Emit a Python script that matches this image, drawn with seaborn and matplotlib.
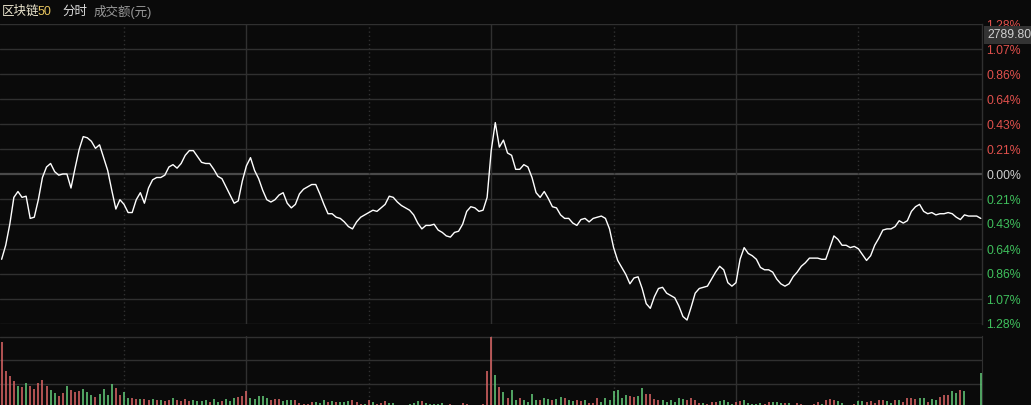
import matplotlib
matplotlib.use('Agg')
import matplotlib.pyplot as plt
import seaborn as sns
import pandas as pd

# percent change vs previous close, one value per minute (241 minutes)
pct_change = [
    -0.73, -0.61, -0.43, -0.20, -0.15, -0.20, -0.19, -0.38, -0.37, -0.22,
    -0.03, 0.06, 0.09, 0.02, -0.01, 0.00, 0.00, -0.12, 0.05, 0.21,
    0.32, 0.31, 0.28, 0.22, 0.25, 0.14, 0.03, -0.14, -0.30, -0.22,
    -0.26, -0.33, -0.33, -0.22, -0.16, -0.25, -0.12, -0.05, -0.03, -0.03,
    -0.01, 0.06, 0.08, 0.05, 0.09, 0.16, 0.20, 0.20, 0.15, 0.10,
    0.09, 0.09, 0.04, -0.02, -0.04, -0.11, -0.18, -0.25, -0.23, -0.06,
    0.07, 0.14, 0.03, -0.04, -0.14, -0.22, -0.24, -0.22, -0.18, -0.16,
    -0.25, -0.29, -0.26, -0.17, -0.13, -0.11, -0.09, -0.09, -0.17, -0.26,
    -0.34, -0.34, -0.37, -0.38, -0.41, -0.45, -0.47, -0.41, -0.37, -0.35,
    -0.33, -0.31, -0.32, -0.29, -0.26, -0.19, -0.20, -0.24, -0.27, -0.29,
    -0.31, -0.35, -0.42, -0.47, -0.44, -0.44, -0.43, -0.48, -0.50, -0.53,
    -0.54, -0.50, -0.49, -0.43, -0.32, -0.28, -0.29, -0.32, -0.31, -0.20,
    0.20, 0.44, 0.23, 0.29, 0.18, 0.16, 0.04, 0.04, 0.08, 0.06,
    -0.03, -0.16, -0.20, -0.15, -0.21, -0.28, -0.29, -0.35, -0.38, -0.38,
    -0.42, -0.44, -0.39, -0.38, -0.41, -0.38, -0.37, -0.36, -0.38, -0.47,
    -0.63, -0.74, -0.80, -0.86, -0.94, -0.89, -0.88, -0.98, -1.11, -1.15,
    -1.05, -0.98, -0.97, -1.02, -1.04, -1.06, -1.13, -1.22, -1.25, -1.14,
    -1.02, -0.98, -0.97, -0.96, -0.90, -0.84, -0.79, -0.82, -0.93, -0.96,
    -0.93, -0.73, -0.63, -0.68, -0.70, -0.73, -0.80, -0.82, -0.82, -0.84,
    -0.90, -0.94, -0.96, -0.94, -0.88, -0.84, -0.79, -0.76, -0.72, -0.72,
    -0.72, -0.73, -0.73, -0.63, -0.53, -0.56, -0.61, -0.61, -0.63, -0.62,
    -0.64, -0.69, -0.74, -0.70, -0.61, -0.55, -0.48, -0.47, -0.47, -0.45,
    -0.40, -0.42, -0.40, -0.32, -0.28, -0.26, -0.32, -0.34, -0.33, -0.35,
    -0.34, -0.34, -0.33, -0.34, -0.37, -0.39, -0.35, -0.36, -0.36, -0.36,
    -0.38,
]

# traded amount per minute (relative units)
amount = [
    63, 34, 29, 24, 19, 18, 22, 19, 16, 22,
    25, 19, 15, 12, 9, 12, 19, 15, 13, 14,
    16, 13, 10, 8, 11, 16, 10, 21, 17, 10,
    13, 7, 7, 6, 6, 6, 5, 6, 5, 5,
    4, 5, 7, 5, 4, 6, 4, 5, 4, 4,
    5, 3, 6, 3, 4, 6, 4, 7, 8, 9,
    14, 7, 6, 9, 9, 7, 5, 6, 6, 4,
    5, 5, 5, 2, 1, 1, 3, 3, 2, 5,
    3, 4, 3, 3, 3, 4, 5, 3, 1, 1,
    5, 3, 1, 2, 4, 2, 2, 0, 0, 0,
    1, 2, 4, 4, 2, 1, 1, 1, 2, 0,
    1, 0, 0, 2, 1, 0, 0, 0, 1, 34,
    68, 30, 18, 13, 7, 15, 5, 7, 5, 3,
    11, 5, 5, 7, 6, 5, 6, 8, 7, 5,
    4, 5, 4, 5, 2, 2, 7, 3, 7, 5,
    14, 15, 7, 10, 9, 8, 9, 17, 11, 11,
    6, 5, 5, 3, 5, 3, 7, 6, 5, 7,
    5, 2, 2, 1, 3, 3, 4, 5, 3, 1,
    3, 4, 5, 2, 1, 1, 2, 1, 3, 3,
    3, 2, 2, 2, 0, 2, 1, 0, 0, 1,
    3, 1, 5, 6, 5, 4, 2, 0, 0, 1,
    4, 4, 3, 4, 2, 5, 5, 4, 2, 5,
    5, 3, 7, 7, 6, 7, 7, 3, 6, 5,
    8, 10, 10, 14, 12, 15, 14, 0, 0, 0,
    32,
]

# r = up minute, g = down minute
direction = list(
    "rrrrgrgrrr" "rrggrrgrrr" "gggrggggrr" "ggrrgrrgrg"
    "rrgrrrrggg" "grggrgggrr" "rgggggrrrg" "ggrrrrrggg"
    "rgrgggrrrg" "rgrrrggggg" "gggrgggggg" "rrrrrrrrrr"
    "rgrgrggrgg" "ggrggrggrg" "grrgrrrggg" "ggggrrggrr"
    "rrggggggrr" "rrgrrrgggg" "rrgggggrrg" "ggrggrrrrr"
    "rgrrrggggr" "ggrrrrrggr" "grrrrggrgg" "rrrggrgggg"
    "g"
)

pct_ticks = [1.284 * k / 6 for k in range(6, -7, -1)]
pct_tick_labels = ['1.28%', '1.07%', '0.86%', '0.64%', '0.43%', '0.21%', '0.00%',
                   '0.21%', '0.43%', '0.64%', '0.86%', '1.07%', '1.28%']
price_label = '2789.80'

df = pd.DataFrame({'minute': range(len(pct_change)), 'pct': pct_change,
                   'amount': amount, 'direction': direction})

bg = '#0a0a0a'
grid_c = '#303030'
red = '#e0504c'
green = '#3fbf5c'
bar_red = '#d86464'
bar_green = '#62c878'

sns.set_style('dark')
plt.rcParams['font.family'] = ['Liberation Sans', 'Noto Sans CJK SC', 'DejaVu Sans']

W, H = 1031, 405
fig = plt.figure(figsize=(W / 100, H / 100), dpi=100, facecolor=bg)

ax = fig.add_axes([0, (H - 324) / H, 982 / W, 300 / H], facecolor=bg)
axv = fig.add_axes([0, 0, 982 / W, 69 / H], facecolor=bg)

xlim = (-0.4, 240.3)

# price line panel
for t in pct_ticks:
    if abs(t) < 1e-9:
        ax.axhline(t, color='#4a4a4a', lw=1.6, zorder=1)
    else:
        ax.axhline(t, color=grid_c, lw=1.0, zorder=1)
for m in range(30, 240, 30):
    ls = '-' if m % 60 == 0 else (0, (1, 2))
    ax.axvline(m, color=grid_c, lw=1.0, ls=ls, zorder=1)
    axv.axvline(m, color=grid_c, lw=1.0, ls=ls, zorder=1)

sns.lineplot(data=df, x='minute', y='pct', ax=ax, color='white', lw=1.0, zorder=3)
ax.set_xlim(*xlim)
ax.set_ylim(-1.284, 1.284)
ax.set_xticks([])
ax.yaxis.tick_right()
ax.set_yticks(pct_ticks)
ax.set_yticklabels(pct_tick_labels, fontsize=8.8)
ax.tick_params(axis='y', length=0, pad=3)
for lab, t in zip(ax.get_yticklabels(), pct_ticks):
    if t > 1e-9:
        lab.set_color(red)
    elif t < -1e-9:
        lab.set_color(green)
    else:
        lab.set_color('#cfcfcf')
ax.set_xlabel('')
ax.set_ylabel('')
ax.grid(False)
for s in ['left', 'bottom', 'top']:
    ax.spines[s].set_visible(False)
ax.spines['right'].set_color(grid_c)
ax.spines['right'].set_linewidth(1.0)

# amount panel: thin vertical bars, red for up minutes, green for down minutes
for d, c in [('r', bar_red), ('g', bar_green)]:
    sub = df[df['direction'] == d]
    axv.vlines(sub['minute'], 0, sub['amount'], colors=c, lw=1.15, zorder=3)
axv.set_xlim(*xlim)
axv.set_ylim(0, 69)
axv.set_xticks([])
axv.set_yticks([])
for y in [21, 45, 68.5]:
    axv.axhline(y, color=grid_c, lw=1.0, zorder=1)
axv.grid(False)
for s in ['left', 'bottom', 'top']:
    axv.spines[s].set_visible(False)
axv.spines['right'].set_color(grid_c)

# header
def fy(py):
    return 1 - py / H

fig.text(2 / W, fy(12), '区块链', color='#ece6cf', fontsize=9, va='center', ha='left')
fig.text(38 / W, fy(12), '50', color='#e8c660', fontsize=9, va='center', ha='left')
fig.text(62 / W, fy(12), '分时', color='#dcdcdc', fontsize=9, va='center', ha='left')
fig.text(94 / W, fy(12), '成交额(元)', color='#9a9a9a', fontsize=9, va='center', ha='left')

# last price box
fig.text(987 / W, fy(35), price_label, color='#cfcfcf', fontsize=8.8, va='center', ha='left',
         bbox=dict(boxstyle='square,pad=0.25', fc='#333333', ec='none'))

fig.savefig('out.png', dpi=100, facecolor=bg)
